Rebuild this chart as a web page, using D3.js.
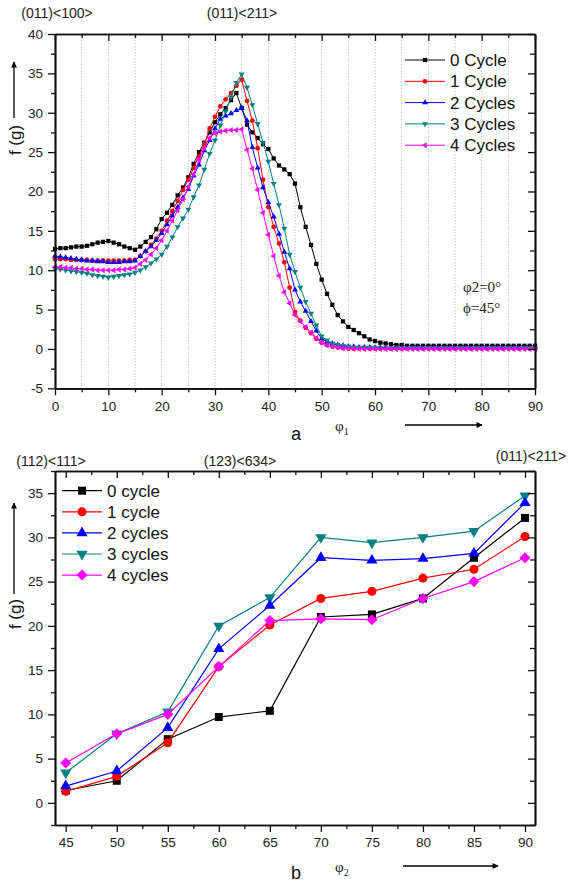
<!DOCTYPE html>
<html>
<head>
<meta charset="utf-8">
<script src="https://cdn.jsdelivr.net/npm/d3@7"></script>
<style>
  body { margin: 0; background: #fff; }
  svg { display: block; font-family: Arial, "Liberation Sans", sans-serif; }
  .tick text { font-size: 13.5px; fill: #222; }
  .serif { font-family: "Liberation Serif", "Times New Roman", serif; }
</style>
</head>
<body>
<svg id="chart" width="569" height="884"></svg>
<script>
// ---- panel a: f(g) along phi1 (phi2 = 0, Phi = 45) ----
const phi1 = d3.range(0, 91);
const cycle0A = [
  12.7, 12.8, 12.8, 12.9, 13.0, 13.0, 13.1, 13.3, 13.5, 13.6, 13.7, 13.5, 13.3, 13.0, 12.8, 12.6,
  13.0, 13.6, 14.2, 15.2, 16.5, 17.3, 18.3, 19.5, 20.5, 21.8, 23.5, 25.0, 26.2, 27.5, 28.8, 29.8, 30.6, 31.6, 32.5, 30.6,
  28.5, 27.5, 26.8, 26.0, 25.4, 24.2, 23.3, 22.8, 22.2, 21.0, 18.0, 15.5, 13.2, 10.8, 8.8, 7.0, 5.6, 4.3, 3.5, 2.8,
  2.4, 2.0, 1.6, 1.2, 1.0, 0.8, 0.7, 0.6, 0.5, 0.5, 0.4, 0.4, 0.4, 0.4, 0.4,
  0.4, 0.4, 0.4, 0.4, 0.4, 0.4, 0.4, 0.4, 0.4, 0.4, 0.4, 0.4, 0.4, 0.4, 0.4, 0.4, 0.4, 0.4, 0.4, 0.4
];
const cycle1A = [
  11.4, 11.4, 11.4, 11.3, 11.3, 11.3, 11.3, 11.2, 11.2, 11.2, 11.2, 11.2, 11.2, 11.2, 11.3, 11.3,
  11.8, 12.4, 13.2, 14.0, 15.0, 16.3, 17.5, 18.8, 20.2, 21.5, 23.0, 24.5, 26.0, 28.0, 29.5, 30.8, 31.7, 32.5, 33.4, 34.2,
  31.5, 29.0, 25.5, 21.5, 18.0, 15.5, 13.4, 11.0, 7.8, 4.7, 3.6, 2.7, 2.0, 1.3, 0.8, 0.5, 0.3, 0.2, 0.1, 0.05,
  0.05, 0.05, 0.05, 0.05, 0.05, 0.05, 0.05, 0.05, 0.05, 0.05, 0.05, 0.05, 0.05, 0.05, 0.05,
  0.05, 0.05, 0.05, 0.05, 0.05, 0.05, 0.05, 0.05, 0.05, 0.05, 0.05, 0.05, 0.05, 0.05, 0.05, 0.05, 0.05, 0.05, 0.05, 0.05
];
const cycle2A = [
  11.8, 11.7, 11.6, 11.5, 11.4, 11.3, 11.2, 11.2, 11.1, 11.1, 11.0, 11.0, 11.0, 11.1, 11.1, 11.2,
  11.8, 12.4, 13.0, 13.8, 14.7, 15.8, 16.9, 18.0, 19.2, 20.3, 22.0, 23.4, 25.2, 26.5, 28.0, 29.2, 29.6, 29.9, 30.3, 30.6,
  29.0, 25.6, 23.0, 20.5, 18.6, 16.8, 14.6, 12.3, 10.2, 7.5, 6.0, 4.8, 3.5, 2.3, 1.3, 0.9, 0.7, 0.5, 0.4, 0.3,
  0.3, 0.2, 0.2, 0.2, 0.15, 0.15, 0.1, 0.1, 0.1, 0.1, 0.1, 0.1, 0.1, 0.1, 0.1,
  0.1, 0.1, 0.1, 0.1, 0.1, 0.1, 0.1, 0.1, 0.1, 0.1, 0.1, 0.1, 0.1, 0.1, 0.1, 0.1, 0.1, 0.1, 0.1, 0.1
];
const cycle3A = [
  10.2, 10.1, 10.0, 9.9, 9.8, 9.7, 9.6, 9.4, 9.3, 9.2, 9.1, 9.2, 9.3, 9.4, 9.5, 9.7,
  10.0, 10.4, 10.9, 11.4, 12.0, 13.0, 14.2, 15.5, 16.6, 17.7, 19.3, 20.8, 22.8, 24.8, 26.5, 28.4, 30.2, 32.0, 33.8, 34.9,
  33.2, 31.0, 28.6, 26.2, 23.8, 21.0, 18.3, 15.3, 12.0, 9.8, 7.8, 6.0, 4.5, 3.0, 1.6, 1.1, 0.7, 0.5, 0.4, 0.3,
  0.2, 0.2, 0.2, 0.2, 0.2, 0.1, 0.1, 0.1, 0.1, 0.1, 0.1, 0.1, 0.1, 0.1, 0.1,
  0.1, 0.1, 0.1, 0.1, 0.1, 0.1, 0.1, 0.1, 0.1, 0.1, 0.1, 0.1, 0.1, 0.1, 0.1, 0.1, 0.1, 0.1, 0.1, 0.1
];
const cycle4A = [
  10.4, 10.4, 10.3, 10.3, 10.2, 10.2, 10.1, 10.1, 10.0, 10.0, 10.0, 10.0, 10.1, 10.1, 10.2, 10.3,
  10.8, 11.3, 12.0, 12.8, 13.8, 15.0, 16.3, 17.6, 19.0, 20.6, 22.2, 24.0, 25.5, 26.8, 27.4, 27.6, 27.7, 27.8, 27.8, 27.9,
  25.3, 22.9, 20.2, 17.3, 14.5, 11.8, 9.3, 7.2, 5.8, 4.3, 3.5, 2.8, 2.1, 1.4, 0.8, 0.5, 0.3, 0.2, 0.1, 0.05,
  0, 0, 0, 0, 0, 0, 0, 0, 0, 0, 0, 0, 0, 0, 0,
  0, 0, 0, 0, 0, 0, 0, 0, 0, 0, 0, 0, 0, 0, 0, 0, 0, 0, 0, 0
];

// ---- panel b: f(g) along phi2 ----
const phi2 = [45, 50, 55, 60, 65, 70, 75, 80, 85, 90];
const cycle0B = [1.4, 2.5, 7.2, 9.7, 10.4, 21.0, 21.3, 23.1, 27.7, 32.2];
const cycle1B = [1.3, 3.0, 6.8, 15.4, 20.1, 23.1, 23.9, 25.4, 26.4, 30.1];
const cycle2B = [1.9, 3.6, 8.5, 17.4, 22.3, 27.7, 27.4, 27.6, 28.2, 33.9];
const cycle3B = [3.4, 7.8, 10.3, 20.0, 23.2, 30.0, 29.4, 30.0, 30.7, 34.7];
const cycle4B = [4.5, 7.8, 10.0, 15.4, 20.6, 20.8, 20.7, 23.1, 25.0, 27.7];

const namesA = ['0 Cycle', '1 Cycle', '2 Cycles', '3 Cycles', '4 Cycles'];
const namesB = ['0 cycle', '1 cycle', '2 cycles', '3 cycles', '4 cycles'];
const colors = ['#000000', '#ff0000', '#0000ff', '#008080', '#ff00ff'];
const shapesA = ['square', 'circle', 'up', 'down', 'left'];
const shapesB = ['square', 'circle', 'up', 'down', 'diamond'];

const svg = d3.select('#chart');

const symbolTypes = {
  square: d3.symbolSquare, circle: d3.symbolCircle, up: d3.symbolTriangle,
  down: d3.symbolTriangle, left: d3.symbolTriangle, diamond: d3.symbolSquare
};
const symbolRot = { down: 180, left: -90, diamond: 45 };
const symbolScale = { square: 1, circle: 1, up: 0.85, down: 0.85, left: 0.85, diamond: 0.95 };

function marker(shape, size) {
  return d3.symbol(symbolTypes[shape], size * symbolScale[shape])();
}

function arrow(x1, y1, x2, y2) {
  svg.append('line')
    .attr('x1', x1).attr('y1', y1).attr('x2', x2).attr('y2', y2)
    .attr('stroke', '#000').attr('stroke-width', 1.3)
    .attr('marker-end', 'url(#head)');
}

svg.append('defs').append('marker')
  .attr('id', 'head')
  .attr('viewBox', '0 0 10 10')
  .attr('refX', 9).attr('refY', 5)
  .attr('markerWidth', 7).attr('markerHeight', 6)
  .attr('markerUnits', 'userSpaceOnUse')
  .attr('orient', 'auto')
  .append('path').attr('d', 'M0,0 L10,5 L0,10 Z').attr('fill', '#000');

function drawPanel(p) {
  const x = d3.scaleLinear().domain(p.xDomain).range([p.left, p.right]);
  const y = d3.scaleLinear().domain(p.yDomain).range([p.bottom, p.top]);
  const g = svg.append('g');
  const plain = d => String(d);

  // dotted vertical grid
  if (p.grid) {
    g.append('g').selectAll('line').data(p.grid).join('line')
      .attr('x1', d => x(d)).attr('x2', d => x(d))
      .attr('y1', p.top).attr('y2', p.bottom)
      .attr('stroke', '#bdbdbd').attr('stroke-width', 0.9)
      .attr('stroke-dasharray', '1.5,1.5');
  }

  // lines + markers
  p.order.forEach(k => {
    const s = p.series[k];
    const line = d3.line().x((d, i) => x(p.xValues[i])).y(d => y(d));
    g.append('path').datum(s.values)
      .attr('d', line)
      .attr('fill', 'none')
      .attr('stroke', s.color)
      .attr('stroke-width', p.lineWidth);
    g.append('g').selectAll('path').data(s.values).join('path')
      .attr('d', marker(s.shape, p.markerSize))
      .attr('transform', (d, i) => `translate(${x(p.xValues[i])},${y(d)}) rotate(${symbolRot[s.shape] || 0})`)
      .attr('fill', s.color);
  });

  // axes
  const axes = [
    [d3.axisBottom(x).tickValues(p.xMajor).tickSize(7).tickPadding(p.xPad).tickFormat(plain), `translate(0,${p.bottom})`],
    [d3.axisBottom(x).tickValues(p.xMinor).tickSize(4).tickFormat(''), `translate(0,${p.bottom})`],
    [d3.axisTop(x).tickValues(p.xMajor).tickSize(-7).tickFormat(''), `translate(0,${p.top})`],
    [d3.axisTop(x).tickValues(p.xMinor).tickSize(-4).tickFormat(''), `translate(0,${p.top})`],
    [d3.axisLeft(y).tickValues(p.yMajor).tickSize(7).tickPadding(5).tickFormat(plain), `translate(${p.left},0)`],
    [d3.axisLeft(y).tickValues(p.yMinor).tickSize(4).tickFormat(''), `translate(${p.left},0)`],
    [d3.axisRight(y).tickValues(p.yMajor).tickSize(-7).tickFormat(''), `translate(${p.right},0)`],
    [d3.axisRight(y).tickValues(p.yMinor).tickSize(-5).tickFormat(''), `translate(${p.right},0)`]
  ];
  axes.forEach(([ax, tr]) => {
    const a = g.append('g').attr('transform', tr).call(ax.tickSizeOuter(0));
    a.select('.domain').attr('stroke', '#111').attr('stroke-width', 1.7);
    a.selectAll('.tick line').attr('stroke', '#111').attr('stroke-width', 1.3);
    a.selectAll('.tick text').attr('font-family', 'Arial, "Liberation Sans", sans-serif');
  });

  // legend
  const lg = p.legend;
  p.series.forEach((s, i) => {
    const ly = lg.y + i * lg.step;
    g.append('line')
      .attr('x1', lg.x1).attr('x2', lg.x2).attr('y1', ly).attr('y2', ly)
      .attr('stroke', s.color).attr('stroke-width', p.lineWidth);
    g.append('path')
      .attr('d', marker(s.shape, p.markerSize))
      .attr('transform', `translate(${(lg.x1 + lg.x2) / 2},${ly}) rotate(${symbolRot[s.shape] || 0})`)
      .attr('fill', s.color);
    g.append('text')
      .attr('x', lg.tx).attr('y', ly).attr('dy', '0.36em')
      .attr('font-size', 17).attr('fill', '#111')
      .text(s.name);
  });
  return { x, y };
}

function buildSeries(names, shapes, values) {
  return names.map((n, i) => ({ name: n, color: colors[i], shape: shapes[i], values: values[i] }));
}

// panel a
drawPanel({
  left: 55, right: 535, top: 34, bottom: 388.3,
  xDomain: [0, 90], yDomain: [-5, 40],
  xValues: phi1,
  series: buildSeries(namesA, shapesA, [cycle0A, cycle1A, cycle2A, cycle3A, cycle4A]),
  order: [0, 1, 2, 3, 4],
  xMajor: d3.range(0, 91, 10), xMinor: d3.range(5, 90, 10),
  yMajor: d3.range(-5, 41, 5), yMinor: d3.range(-2.5, 40, 5),
  grid: d3.range(5, 90, 5),
  xPad: 6, lineWidth: 1, markerSize: 18,
  legend: { x1: 405, x2: 445, tx: 450, y: 60, step: 21.3 }
});

// panel b
drawPanel({
  left: 55, right: 535, top: 471, bottom: 825,
  xDomain: [43.95, 90.98], yDomain: [-2.5, 37.5],
  xValues: phi2,
  series: buildSeries(namesB, shapesB, [cycle0B, cycle1B, cycle2B, cycle3B, cycle4B]),
  order: [0, 1, 3, 2, 4],
  xMajor: d3.range(45, 91, 5), xMinor: d3.range(47.5, 90, 5),
  yMajor: d3.range(0, 36, 5), yMinor: d3.range(-2.5, 37.6, 5),
  grid: null,
  xPad: 5, lineWidth: 1.2, markerSize: 64,
  legend: { x1: 62, x2: 102, tx: 107, y: 490.7, step: 21.1 }
});

// annotations
const ann = svg.append('g').attr('font-size', 14).attr('fill', '#222');
ann.append('text').attr('x', 57).attr('y', 18).attr('text-anchor', 'middle').text('(011)<100>');
ann.append('text').attr('x', 242).attr('y', 18).attr('text-anchor', 'middle').text('(011)<211>');
ann.append('text').attr('x', 51).attr('y', 466).attr('text-anchor', 'middle').text('(112)<111>');
ann.append('text').attr('x', 240).attr('y', 466).attr('text-anchor', 'middle').text('(123)<634>');
ann.append('text').attr('x', 531).attr('y', 461).attr('text-anchor', 'middle').text('(011)<211>');

const eul = svg.append('g').attr('class', 'serif').attr('font-size', 15).attr('fill', '#222');
eul.append('text').attr('x', 463).attr('y', 292).text('φ2=0°');
eul.append('text').attr('x', 463).attr('y', 313).text('ϕ=45°');

// y labels with arrows
[[140, 118, 62], [614, 594, 503]].forEach(([cy, a1, a2]) => {
  svg.append('text')
    .attr('transform', `translate(21,${cy}) rotate(-90)`)
    .attr('text-anchor', 'middle')
    .attr('font-size', 17).attr('fill', '#111')
    .text('f (g)');
  arrow(14, a1, 14, a2);
});

// x labels with arrows
[['a', 440, 431, '1', 405, 482, 425], ['b', 879, 872, '2', 403, 498, 866]].forEach(([lab, by, py, sub, ax1, ax2, ay]) => {
  svg.append('text').attr('x', 296).attr('y', by).attr('text-anchor', 'middle')
    .attr('font-size', 18).attr('fill', '#111').text(lab);
  const t = svg.append('text').attr('class', 'serif').attr('x', 335).attr('y', py)
    .attr('font-size', 15).attr('fill', '#222');
  t.append('tspan').text('φ');
  t.append('tspan').attr('font-size', 10).attr('dy', 4).text(sub);
  arrow(ax1, ay, ax2, ay);
});
</script>
</body>
</html>
